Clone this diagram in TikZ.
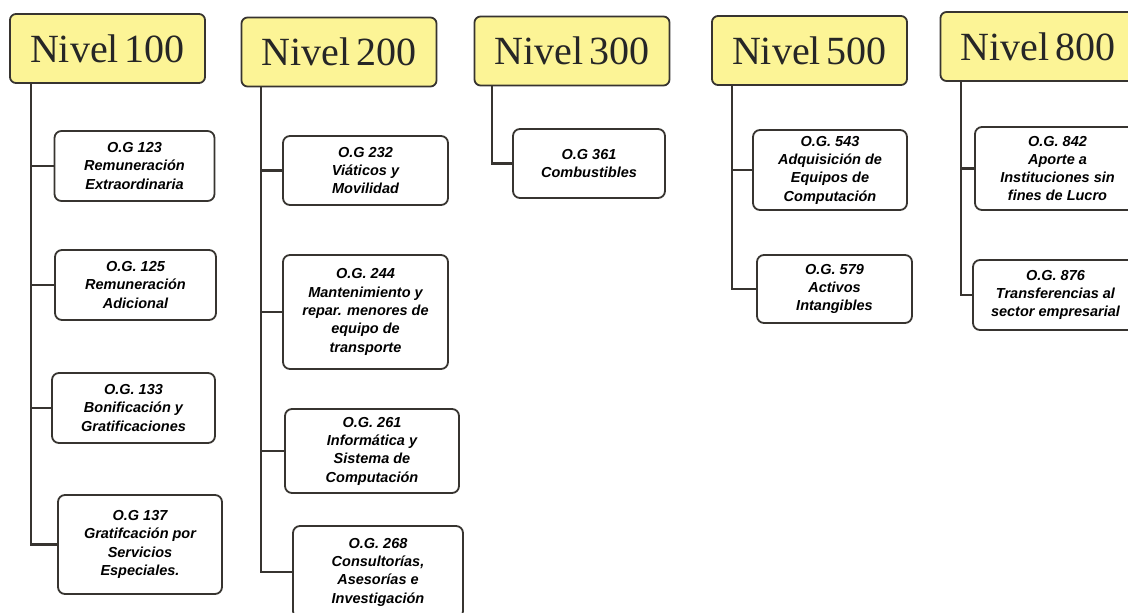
\documentclass[tikz,border=0pt]{standalone}
\usepackage{fontspec}
\newfontfamily\cuentafont{Liberation Sans}
\newfontfamily\nivelfont[WordSpace=0.6]{Liberation Serif}
\definecolor{amarillo}{RGB}{252,244,150}
\definecolor{borde}{RGB}{55,52,48}
\begin{document}
\begin{tikzpicture}[x=1pt,y=-1pt,
    nivel/.style={draw=borde,line width=1.8pt,rounded corners=6pt,fill=amarillo,
      minimum width=195pt,minimum height=69pt,inner sep=0pt,
      font=\nivelfont\fontsize{40}{42}\selectfont,text=black!85},
    cuenta/.style={draw=borde,line width=1.8pt,rounded corners=7pt,fill=white,
      align=center,inner sep=2pt,
      font=\cuentafont\fontsize{14.5}{18.3}\selectfont\bfseries\itshape},
    rama/.style={line width=2.2pt,draw=borde}]
    \useasboundingbox (0,0) rectangle (1128,613);
    \clip (0,0) rectangle (1128,613);
    % encabezados
    \node[nivel] (n100) at (107.5,48.5) {Nivel 100};
    \node[nivel] (n200) at (339,52) {Nivel 200};
    \node[nivel] (n300) at (572,51) {Nivel 300};
    \node[nivel] (n500) at (809.5,50.5) {Nivel 500};
    \node[nivel] (n800) at (1038,46.5) {Nivel 800};
    % nivel 100
    \node[cuenta,minimum width=160pt,minimum height=70pt] (g123) at (134.5,166)
      {O.G 123\\Remuneración\\Extraordinaria};
    \node[cuenta,minimum width=161pt,minimum height=70pt] (g125) at (135.5,285)
      {O.G. 125\\Remuneración\\Adicional};
    \node[cuenta,minimum width=163pt,minimum height=70pt] (g133) at (133.5,408)
      {O.G. 133\\Bonificación y\\Gratificaciones};
    \node[cuenta,minimum width=164pt,minimum height=99pt] (g137) at (140,544.5)
      {O.G 137\\Gratifcación por\\Servicios\\Especiales.};
    % nivel 200
    \node[cuenta,minimum width=165pt,minimum height=69pt] (g232) at (365.5,170.5)
      {O.G 232\\Viáticos y\\Movilidad};
    \node[cuenta,minimum width=165pt,minimum height=114pt] (g244) at (365.5,312)
      {O.G. 244\\Mantenimiento y\\repar. menores de\\equipo de\\transporte};
    \node[cuenta,minimum width=174pt,minimum height=84pt] (g261) at (372,451)
      {O.G. 261\\Informática y\\Sistema de\\Computación};
    \node[cuenta,minimum width=170pt,minimum height=92pt] (g268) at (378,572)
      {O.G. 268\\Consultorías,\\Asesorías e\\Investigación};
    % nivel 300
    \node[cuenta,minimum width=152pt,minimum height=69pt] (g361) at (589,163.5)
      {O.G 361\\Combustibles};
    % nivel 500
    \node[cuenta,minimum width=154pt,minimum height=80pt] (g543) at (830,170)
      {O.G. 543\\Adquisición de\\Equipos de\\Computación};
    \node[cuenta,minimum width=155pt,minimum height=68pt] (g579) at (834.5,289)
      {O.G. 579\\Activos\\Intangibles};
    % nivel 800
    \node[cuenta,minimum width=165pt,minimum height=83pt] (g842) at (1057.5,168.5)
      {O.G. 842\\Aporte a\\Instituciones sin\\fines de Lucro};
    \node[cuenta,minimum width=165pt,minimum height=70pt] (g876) at (1055.5,295)
      {O.G. 876\\Transferencias al\\sector empresarial};
    % ramas
    \foreach \g in {g123,g125,g133,g137}
      \draw[rama] ([xshift=22]n100.south west) |- (\g.west);
    \foreach \g in {g232,g244,g261,g268}
      \draw[rama] ([xshift=20]n200.south west) |- (\g.west);
    \draw[rama] ([xshift=18]n300.south west) |- (g361.west);
    \foreach \g in {g543,g579}
      \draw[rama] ([xshift=21]n500.south west) |- (\g.west);
    \foreach \g in {g842,g876}
      \draw[rama] ([xshift=21]n800.south west) |- (\g.west);
\end{tikzpicture}
\end{document}
